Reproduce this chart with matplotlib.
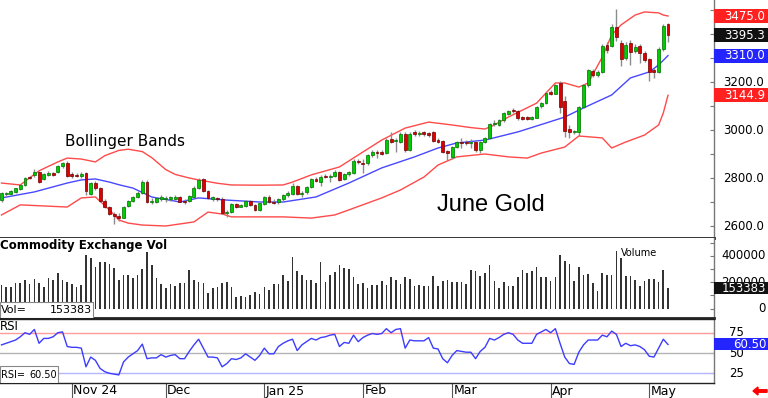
import matplotlib
matplotlib.use("Agg")
import matplotlib.pyplot as plt
from matplotlib.patches import Rectangle

# daily candles, June gold (bar index 0 = first session shown)
opens = [2708, 2732, 2733, 2743, 2755, 2770, 2806, 2812, 2825, 2795,
         2815, 2818, 2825, 2848, 2862, 2815, 2812, 2808, 2821, 2735,
         2778, 2758, 2705, 2680, 2650, 2642, 2635, 2683, 2705, 2720,
         2738, 2785, 2700, 2700, 2712, 2712, 2715, 2712, 2720, 2705,
         2703, 2722, 2760, 2795, 2745, 2715, 2718, 2712, 2655, 2660,
         2690, 2682, 2685, 2705, 2686, 2668, 2692, 2720, 2700, 2698,
         2712, 2728, 2735, 2765, 2735, 2740, 2762, 2795, 2785, 2808,
         2805, 2810, 2825, 2795, 2815, 2822, 2870, 2862, 2862, 2895,
         2910, 2908, 2905, 2962, 2955, 2950, 2985, 2915, 2990, 2985,
         2990, 2985, 2990, 2958, 2955, 2912, 2888, 2928, 2950, 2952,
         2946, 2950, 2915, 2950, 2968, 3025, 3022, 3040, 3068, 3085,
         3080, 3052, 3052, 3048, 3052, 3098, 3112, 3158, 3152, 3196,
         3120, 3005, 2990, 2992, 3096, 3188, 3245, 3228, 3242, 3355,
         3350, 3428, 3362, 3298, 3362, 3330, 3350, 3320, 3295, 3250,
         3242, 3338, 3440]
highs = [2742, 2742, 2750, 2760, 2773, 2803, 2810, 2838, 2830, 2820,
         2828, 2825, 2855, 2868, 2870, 2823, 2820, 2825, 2826, 2785,
         2788, 2762, 2712, 2685, 2660, 2655, 2685, 2710, 2725, 2745,
         2790, 2790, 2718, 2720, 2728, 2725, 2725, 2730, 2725, 2712,
         2730, 2765, 2800, 2800, 2750, 2725, 2722, 2720, 2668, 2695,
         2695, 2690, 2710, 2710, 2692, 2700, 2725, 2730, 2712, 2718,
         2735, 2745, 2780, 2770, 2745, 2768, 2800, 2805, 2812, 2815,
         2815, 2835, 2830, 2820, 2830, 2878, 2880, 2880, 2900, 2915,
         2918, 2915, 2965, 2990, 2965, 2992, 2990, 2990, 2998, 2995,
         2995, 2992, 2995, 2965, 2960, 2918, 2935, 2955, 2965, 2960,
         2962, 2955, 2955, 2972, 3030, 3040, 3045, 3075, 3085, 3092,
         3085, 3060, 3058, 3058, 3100, 3118, 3158, 3165, 3192, 3205,
         3140, 3020, 3000, 3100, 3190, 3255, 3255, 3250, 3360, 3365,
         3440, 3505, 3375, 3365, 3375, 3360, 3360, 3330, 3300, 3260,
         3345, 3440, 3445]
lows = [2700, 2725, 2728, 2738, 2750, 2765, 2795, 2805, 2778, 2790,
        2808, 2810, 2820, 2842, 2805, 2800, 2803, 2800, 2730, 2728,
        2752, 2700, 2675, 2645, 2608, 2622, 2632, 2678, 2700, 2715,
        2735, 2695, 2690, 2695, 2705, 2700, 2705, 2708, 2698, 2690,
        2698, 2718, 2755, 2740, 2712, 2705, 2705, 2650, 2638, 2655,
        2675, 2678, 2680, 2682, 2662, 2662, 2688, 2695, 2690, 2692,
        2705, 2722, 2730, 2730, 2720, 2735, 2758, 2782, 2765, 2798,
        2785, 2805, 2788, 2790, 2808, 2818, 2860, 2820, 2855, 2888,
        2883, 2895, 2900, 2945, 2910, 2945, 2910, 2912, 2975, 2975,
        2975, 2970, 2950, 2945, 2905, 2875, 2880, 2925, 2925, 2938,
        2925, 2910, 2905, 2945, 2962, 3015, 3018, 3035, 3062, 3072,
        3040, 3040, 3042, 3042, 3048, 3092, 3108, 3145, 3148, 3070,
        2970, 2968, 2982, 2975, 3090, 3180, 3220, 3222, 3238, 3320,
        3345, 3370, 3265, 3290, 3270, 3320, 3280, 3285, 3205, 3215,
        3238, 3330, 3365]
closes = [2738, 2736, 2746, 2757, 2770, 2800, 2800, 2824, 2783, 2815,
          2818, 2815, 2850, 2862, 2810, 2810, 2808, 2818, 2745, 2778,
          2758, 2705, 2680, 2650, 2640, 2635, 2680, 2705, 2720, 2738,
          2782, 2700, 2705, 2715, 2720, 2716, 2718, 2722, 2702, 2700,
          2725, 2760, 2790, 2745, 2715, 2718, 2712, 2655, 2660, 2690,
          2680, 2685, 2705, 2686, 2668, 2695, 2720, 2700, 2698, 2712,
          2730, 2738, 2765, 2735, 2738, 2762, 2795, 2787, 2805, 2803,
          2808, 2825, 2792, 2815, 2825, 2872, 2868, 2860, 2895, 2910,
          2905, 2900, 2960, 2950, 2958, 2985, 2915, 2985, 2985, 2988,
          2984, 2982, 2955, 2952, 2910, 2905, 2930, 2950, 2948, 2945,
          2948, 2915, 2950, 2968, 3025, 3030, 3040, 3070, 3080, 3078,
          3052, 3048, 3048, 3052, 3096, 3112, 3154, 3152, 3187, 3096,
          2995, 2990, 2995, 3095, 3186, 3250, 3228, 3243, 3352, 3335,
          3428, 3388, 3296, 3355, 3325, 3345, 3320, 3292, 3242, 3243,
          3338, 3435, 3395.3]

volume = [179, 161, 166, 192, 197, 217, 187, 225, 192, 166,
          230, 217, 273, 217, 204, 184, 166, 179, 408, 382,
          319, 357, 357, 337, 306, 217, 255, 255, 230, 255,
          298, 428, 331, 230, 184, 154, 187, 171, 197, 192,
          293, 217, 204, 192, 121, 154, 161, 192, 204, 161,
          90, 95, 90, 100, 126, 110, 161, 143, 189, 187,
          258, 212, 390, 288, 253, 220, 220, 194, 354, 202,
          253, 278, 329, 309, 304, 237, 187, 194, 156, 182,
          177, 207, 182, 237, 220, 189, 237, 227, 174, 177,
          169, 169, 245, 169, 212, 220, 199, 199, 199, 187,
          296, 283, 245, 271, 329, 212, 156, 202, 169, 169,
          237, 296, 271, 288, 314, 237, 237, 207, 237, 410,
          359, 342, 212, 314, 253, 263, 194, 131, 271, 253,
          253, 441, 385, 245, 245, 220, 174, 207, 227, 227,
          202, 296, 153.383]  # thousands

rsi = [60, 62, 64, 66, 70, 75, 73, 79, 62, 68,
       68, 70, 75, 76, 58, 57, 57, 56, 33, 45,
       41, 31, 27, 25, 24, 23, 39, 45, 49, 53,
       61, 43, 44, 44, 48, 45, 47, 48, 43, 43,
       52, 60, 67, 56, 45, 45, 44, 33, 37, 43,
       42, 44, 49, 45, 41, 47, 56, 49, 49, 58,
       62, 65, 67, 53, 60, 64, 68, 66, 69, 70,
       72, 73, 58, 63, 62, 72, 64, 69, 72, 74,
       73, 74, 80, 75, 79, 80, 56, 66, 65, 65,
       65, 69, 56, 55, 43, 38, 47, 53, 52, 51,
       51, 43, 52, 57, 68, 66, 69, 73, 75, 73,
       66, 62, 62, 62, 73, 76, 79, 75, 80, 62,
       45, 37, 36, 51, 60, 66, 66, 66, 72, 70,
       77, 73, 58, 62, 59, 60, 58, 54, 46, 45,
       56, 67, 60.5]

# Bollinger bands
upper_idx = [0, 4, 8, 12, 14, 17, 20, 22, 25, 27, 30, 32, 35, 37, 40, 42, 46, 49, 55, 60,
             62, 66, 72, 76, 81, 86, 91, 96, 100, 103, 105, 108, 111, 114, 116, 118, 120,
             123, 125, 128, 130, 132, 135, 137, 140, 141, 142]
upper = [2779, 2771, 2830, 2867, 2883, 2879, 2867, 2893, 2915, 2920, 2910, 2885, 2835, 2815,
         2800, 2792, 2778, 2771, 2770, 2771, 2783, 2813, 2846, 2896, 2958, 3008, 3033, 3021,
         3010, 3004, 3021, 3054, 3083, 3112, 3154, 3196, 3196, 3179, 3196, 3304, 3396, 3438,
         3479, 3492, 3488, 3479, 3475]
mid_idx = [0, 7, 14, 17, 20, 23, 25, 28, 32, 38, 42, 48, 55, 60, 67, 74, 81, 88, 93, 97,
           103, 110, 116, 120, 124, 130, 134, 138, 140, 142]
mid = [2717, 2742, 2779, 2792, 2796, 2783, 2772, 2758, 2721, 2700, 2717, 2708, 2700, 2700,
       2721, 2779, 2842, 2888, 2925, 2946, 2958, 2992, 3029, 3054, 3092, 3146, 3217, 3242,
       3271, 3310]
lower_idx = [0, 4, 14, 17, 20, 23, 25, 27, 30, 35, 41, 44, 47, 49, 60, 66, 71, 74, 81, 85,
             90, 93, 97, 103, 108, 112, 115, 120, 123, 128, 130, 133, 137, 140, 141, 142]
lower = [2646, 2688, 2679, 2717, 2721, 2667, 2625, 2612, 2604, 2600, 2617, 2658, 2650, 2638,
         2638, 2633, 2646, 2667, 2717, 2750, 2804, 2854, 2888, 2900, 2888, 2883, 2904, 2929,
         2975, 2967, 2925, 2950, 2979, 3021, 3071, 3144.9]

month_pos = [15, 35, 56, 77, 96, 117, 138]
month_lbl = ["Nov 24", "Dec", "Jan 25", "Feb", "Mar", "Apr", "May"]

W, H = 768, 398
fig = plt.figure(figsize=(W / 100, H / 100), dpi=100)
fig.patch.set_facecolor("white")
plt.rcParams["font.family"] = "DejaVu Sans"

AW = 714 / W
ax = fig.add_axes([0, 1 - 238 / H, AW, 238 / H])
axv = fig.add_axes([0, 1 - 318 / H, AW, 80 / H])
axr = fig.add_axes([0, 1 - 383 / H, AW, 64 / H])

XL = (-0.32, 151.8)
n = len(closes)
idx = list(range(n))

for a in (ax, axv, axr):
    a.set_xlim(*XL)
    a.set_xticks([])
    a.set_yticks([])
    for s in ("left", "top"):
        a.spines[s].set_visible(False)
    a.spines["right"].set_color("#777777")
    a.spines["right"].set_linewidth(1)
    a.spines["bottom"].set_color("#222222")

ax.spines["bottom"].set_linewidth(2)
axv.spines["bottom"].set_linewidth(2)
axr.spines["bottom"].set_linewidth(1)
axr.spines["top"].set_visible(True)
axr.spines["top"].set_color("#222222")
axr.spines["top"].set_linewidth(1)

# ---- price panel
ax.set_ylim(2550, 3541.7)
ax.plot(upper_idx, upper, color="#ff4a4a", lw=1)
ax.plot(lower_idx, lower, color="#ff4a4a", lw=1)
ax.plot(mid_idx, mid, color="#4848ff", lw=1)

ax.vlines(idx, lows, highs, color="#8c8c8c", lw=1, zorder=3)
for i in idx:
    o, c = opens[i], closes[i]
    up = c >= o
    hgt = max(abs(c - o), 5)
    ax.bar(i, hgt, bottom=min(o, c) if abs(c - o) >= 5 else (o + c) / 2 - 2.5,
           width=0.62, color="#00cc00" if up else "#dd0000",
           edgecolor="#007000" if up else "#700000", lw=0.5, zorder=4)

ax.text(0.091, 2954, "Bollinger Bands", transform=ax.get_yaxis_transform(),
        fontsize=11, va="center", ha="left")
ax.text(0.612, 2688, "June Gold", transform=ax.get_yaxis_transform(),
        fontsize=17, va="center", ha="left", family="Liberation Sans")

ty = ax.get_yaxis_transform()
for v in [2600, 2800, 3000, 3200, 3400]:
    ax.text(723 / 714, v, "%.1f" % v, transform=ty, fontsize=8.5,
            va="center", ha="left", clip_on=False)
ax.set_yticks([2600, 2700, 2800, 2900, 3000, 3100, 3200, 3300, 3400, 3500])
ax.yaxis.tick_right()
ax.tick_params(axis="y", direction="in", length=3, color="#777777", labelright=False)


def value_box(a, val, txt, fc, half):
    a.add_patch(Rectangle((1.0, val - half), 54 / 714, 2 * half, transform=a.get_yaxis_transform(),
                          facecolor=fc, edgecolor="none", clip_on=False, zorder=5))
    a.text(724 / 714, val, txt, transform=a.get_yaxis_transform(), color="white",
           fontsize=8.5, va="center", ha="left", clip_on=False, zorder=6)


value_box(ax, upper[-1], "%.1f" % upper[-1], "#ff2020", 29)
value_box(ax, closes[-1], "%.1f" % closes[-1], "#111111", 29)
value_box(ax, mid[-1], "%.1f" % mid[-1], "#2424ff", 29)
value_box(ax, lower[-1], "%.1f" % lower[-1], "#ff2020", 29)

# ---- volume panel
axv.set_ylim(-72, 537)
axv.bar(idx, volume, width=0.35, color="#333333")
axv.text(0.0, 0.91, "Commodity Exchange Vol", transform=axv.transAxes, fontsize=8.5,
         fontweight="bold", va="center", ha="left")
axv.text(621 / 714, 0.81, "Volume", transform=axv.transAxes, fontsize=7, va="center", ha="left")
tv = axv.get_yaxis_transform()
for v, s in [(400, "400000"), (200, "200000"), (0, "0")]:
    axv.text(766 / 714, v, s, transform=tv, fontsize=8.5, va="center", ha="right", clip_on=False)
axv.add_patch(Rectangle((1.0, volume[-1] - 46), 54 / 714, 92, transform=tv, facecolor="#111111",
                        edgecolor="none", clip_on=False, zorder=5))
axv.text(766 / 714, volume[-1], "%d" % round(volume[-1] * 1000), transform=tv, color="white",
         fontsize=8.5, va="center", ha="right", clip_on=False, zorder=6)
axv.add_patch(Rectangle((0, 0), 93 / 714, 0.2, transform=axv.transAxes, facecolor="white",
                        edgecolor="#888888", lw=0.8, zorder=5))
axv.text(1 / 714, 0.1, "Vol=", transform=axv.transAxes, fontsize=8, va="center", ha="left", zorder=6)
axv.text(92 / 714, 0.1, "%d" % round(volume[-1] * 1000), transform=axv.transAxes, fontsize=8,
         va="center", ha="right", zorder=6)
axv.set_yticks([0, 100, 200, 300, 400, 500])
axv.yaxis.tick_right()
axv.tick_params(axis="y", direction="in", length=3, color="#777777", labelright=False)

# ---- RSI panel
axr.set_ylim(13.06, 91.9)
axr.axhline(75, color="#ff9c9c", lw=1)
axr.axhline(50, color="#b4b4b4", lw=1)
axr.axhline(25, color="#b4b4ff", lw=1)
axr.plot(idx, rsi, color="#3c3cff", lw=1)
axr.text(0.0, 0.875, "RSI", transform=axr.transAxes, fontsize=8.5, va="center", ha="left")
tr = axr.get_yaxis_transform()
for v in [75, 50, 25]:
    axr.text(729 / 714, v, "%d" % v, transform=tr, fontsize=8.5, va="center", ha="left", clip_on=False)
axr.add_patch(Rectangle((1.0, rsi[-1] - 7.4), 54 / 714, 14.8, transform=tr, facecolor="#2424ff",
                        edgecolor="none", clip_on=False, zorder=5))
axr.text(766 / 714, rsi[-1], "%.2f" % rsi[-1], transform=tr, color="white", fontsize=8.5,
         va="center", ha="right", clip_on=False, zorder=6)
axr.add_patch(Rectangle((0, 0), 58 / 714, 0.266, transform=axr.transAxes, facecolor="white",
                        edgecolor="#888888", lw=0.8, zorder=5))
axr.text(1 / 714, 0.13, "RSI=", transform=axr.transAxes, fontsize=7, va="center", ha="left", zorder=6)
axr.text(57 / 714, 0.13, "%.2f" % rsi[-1], transform=axr.transAxes, fontsize=7, va="center",
         ha="right", zorder=6)
axr.set_yticks([25, 50, 75])
axr.yaxis.tick_right()
axr.tick_params(axis="y", direction="in", length=3, color="#777777", labelright=False)

axr.set_xticks(month_pos)
axr.tick_params(axis="x", direction="out", length=11, width=0.8, color="#555555", labelbottom=False)
for p, s in zip(month_pos, month_lbl):
    axr.text(p + 0.3, -0.125, s, transform=axr.get_xaxis_transform(), fontsize=9,
             va="center", ha="left")

fig.patches.append(matplotlib.patches.FancyArrow(767 / W, 1 - 391 / H, -9 / W, 0, width=2.5 / H,
                                                 head_width=8 / H, head_length=5 / W,
                                                 color="red", transform=fig.transFigure, figure=fig))

fig.savefig("out.png", dpi=100)
